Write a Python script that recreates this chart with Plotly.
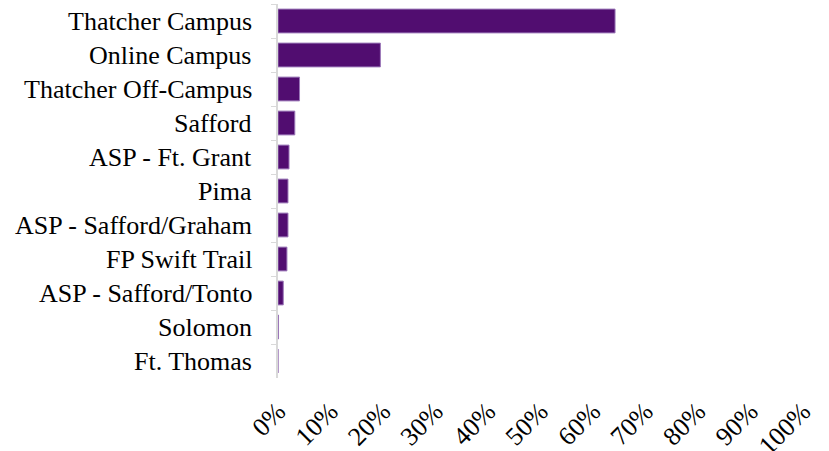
import plotly.graph_objects as go

categories = ["Thatcher Campus", "Online Campus", "Thatcher Off-Campus", "Safford",
              "ASP - Ft. Grant", "Pima", "ASP - Safford/Graham", "FP Swift Trail",
              "ASP - Safford/Tonto", "Solomon", "Ft. Thomas"]
values = [0.642, 0.195, 0.041, 0.032, 0.021, 0.019, 0.019, 0.017, 0.010, 0.001, 0.0]

FONT = "Times New Roman, Liberation Serif, DejaVu Serif, serif"

fig = go.Figure(go.Bar(
    y=categories, x=values, orientation="h",
    marker=dict(color="#510D70", line=dict(color="#9B77B8", width=1)),
))
fig.update_layout(
    width=829, height=451,
    margin=dict(l=278, r=26, t=4, b=73),
    paper_bgcolor="white", plot_bgcolor="white",
    font=dict(family=FONT, size=26, color="black"),
    bargap=0.3, showlegend=False,
)
# category labels drawn as annotations anchored to the y-axis categories
for c in categories:
    fig.add_annotation(text=c, x=0, xref="paper", y=c, yref="y",
                       xanchor="right", yanchor="middle", xshift=-24,
                       showarrow=False, font=dict(family=FONT, size=26, color="black"))
fig.update_yaxes(
    autorange="reversed", showline=True, linecolor="#D9D9D9", linewidth=1.5,
    ticks="outside", tickson="boundaries", ticklen=5, tickcolor="#D9D9D9",
    showgrid=False, showticklabels=False, automargin=False,
)
fig.update_xaxes(
    range=[0, 1], dtick=0.1, tickformat=".0%", tickangle=-45,
    showline=False, showgrid=False, zeroline=False, ticks="",
    ticklabelstandoff=12, automargin=False,
    tickfont=dict(family=FONT, size=26, color="black"),
)
fig.write_html("out.html", post_script="document.body.style.margin='0';",
               config={"displayModeBar": False})
